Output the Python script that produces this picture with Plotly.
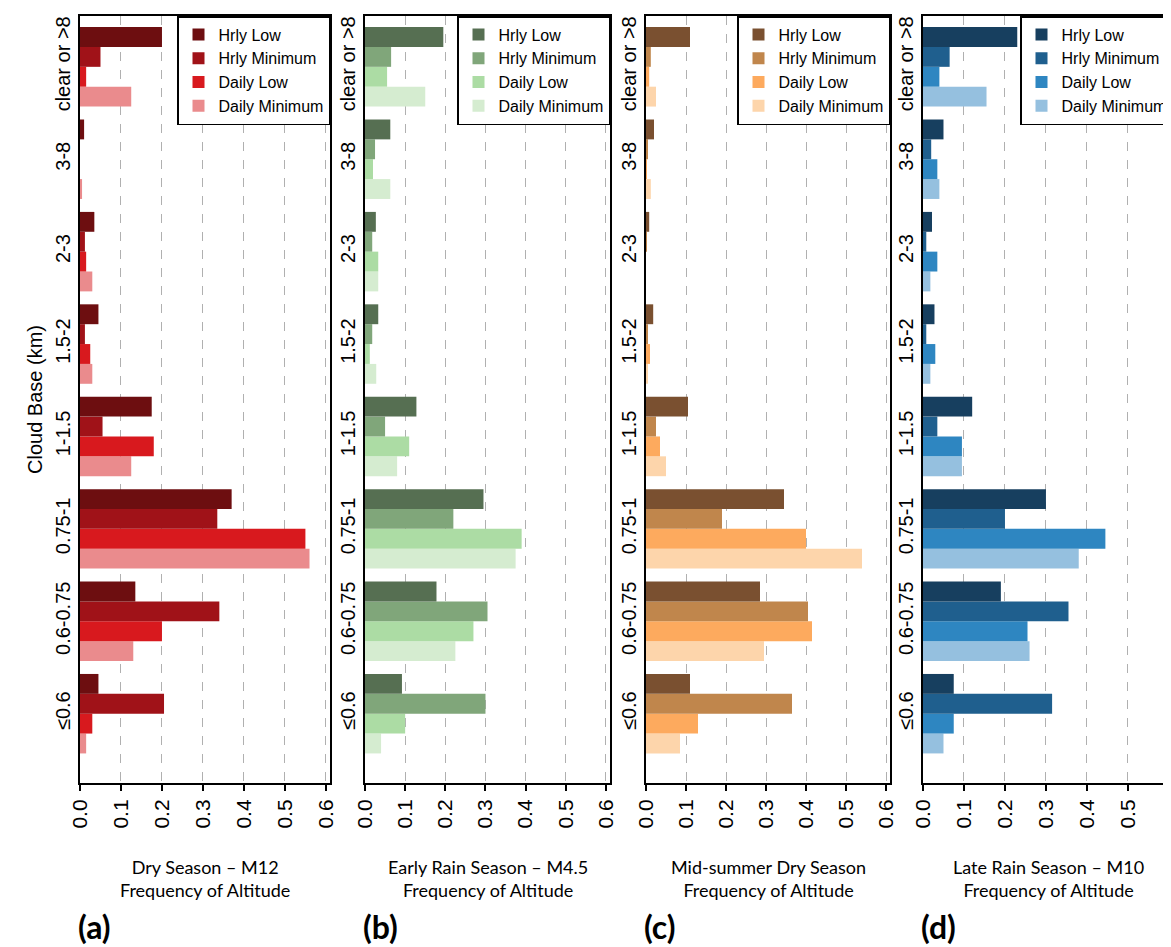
import plotly.graph_objects as go

CATEGORIES = ["clear or >8", "3-8", "2-3", "1.5-2", "1-1.5", "0.75-1", "0.6-0.75", "≤0.6"]
SERIES = ["Hrly Low", "Hrly Minimum", "Daily Low", "Daily Minimum"]

# values per panel, series in order of SERIES, categories in order of CATEGORIES
DRY_M12 = [
    [0.20, 0.01, 0.035, 0.045, 0.175, 0.37, 0.135, 0.045],
    [0.05, 0.0, 0.012, 0.012, 0.055, 0.335, 0.34, 0.205],
    [0.015, 0.0, 0.015, 0.025, 0.18, 0.55, 0.20, 0.03],
    [0.125, 0.005, 0.03, 0.03, 0.125, 0.56, 0.13, 0.015],
]
EARLY_RAIN_M45 = [
    [0.195, 0.063, 0.027, 0.033, 0.128, 0.295, 0.178, 0.092],
    [0.065, 0.025, 0.018, 0.018, 0.05, 0.22, 0.305, 0.30],
    [0.055, 0.02, 0.033, 0.012, 0.11, 0.39, 0.27, 0.10],
    [0.15, 0.063, 0.033, 0.028, 0.08, 0.375, 0.225, 0.04],
]
MIDSUMMER_DRY = [
    [0.11, 0.02, 0.008, 0.018, 0.105, 0.345, 0.285, 0.11],
    [0.012, 0.004, 0.002, 0.003, 0.025, 0.19, 0.405, 0.365],
    [0.008, 0.002, 0.0, 0.01, 0.035, 0.40, 0.415, 0.13],
    [0.025, 0.012, 0.0, 0.003, 0.05, 0.54, 0.295, 0.085],
]
LATE_RAIN_M10 = [
    [0.23, 0.05, 0.022, 0.028, 0.12, 0.30, 0.19, 0.075],
    [0.065, 0.02, 0.008, 0.008, 0.035, 0.20, 0.355, 0.315],
    [0.04, 0.035, 0.035, 0.03, 0.095, 0.445, 0.255, 0.075],
    [0.155, 0.04, 0.018, 0.018, 0.095, 0.38, 0.26, 0.05],
]

PANEL_DATA = [DRY_M12, EARLY_RAIN_M45, MIDSUMMER_DRY, LATE_RAIN_M10]
PANEL_TITLES = ["Dry Season – M12", "Early Rain Season – M4.5",
                "Mid-summer Dry Season", "Late Rain Season – M10"]
PANEL_LETTERS = ["(a)", "(b)", "(c)", "(d)"]
PANEL_COLORS = [
    ["#6d0e10", "#a01218", "#d8191e", "#ea8b8d"],
    ["#566f52", "#80a67a", "#acdca4", "#d5ecd0"],
    ["#7a5030", "#c0864c", "#fdaa5e", "#fdd5ab"],
    ["#173f5f", "#1f5f8e", "#2e86c1", "#95c0df"],
]

W, H = 1171, 947
# pixel boxes of the four plot areas
x_px = [(72, 322), (357, 602), (638, 882), (915, 1165)]
top_px, bot_px = 8, 775

fig = go.Figure()
layout = {}
cats_rev = CATEGORIES[::-1]

for p, data in enumerate(PANEL_DATA):
    n = p + 1
    xa = "x" if n == 1 else f"x{n}"
    ya = "y" if n == 1 else f"y{n}"
    lg = "legend" if n == 1 else f"legend{n}"
    # add bottom-most bar first so Hrly Low sits on top of each group
    for s in reversed(range(4)):
        fig.add_trace(go.Bar(
            y=cats_rev, x=data[s][::-1], orientation="h", name=SERIES[s],
            marker=dict(color=PANEL_COLORS[p][s], line=dict(width=0)),
            xaxis=xa, yaxis=ya, legend=lg, legendrank=s,
        ))
    x0, x1 = x_px[p]
    layout[f"xaxis{'' if n == 1 else n}"] = dict(
        domain=[x0 / W, x1 / W], anchor=ya, range=[0, 0.61],
        tickvals=[0, 0.1, 0.2, 0.3, 0.4, 0.5, 0.6],
        ticktext=["0.0", "0.1", "0.2", "0.3", "0.4", "0.5", "0.6"],
        tickangle=-90, ticks="outside", ticklen=6, tickcolor="black", tickwidth=1.5,
        showgrid=True, gridcolor="#b0b0b0", griddash="dash", gridwidth=1,
        showline=True, linecolor="black", linewidth=2, mirror=True,
        zeroline=False, tickfont=dict(size=21, family="Liberation Sans", color="black"),
    )
    layout[f"yaxis{'' if n == 1 else n}"] = dict(
        domain=[1 - bot_px / H, 1 - top_px / H], anchor=xa,
        categoryorder="array", categoryarray=cats_rev, range=[-0.75, 7.55],
        tickangle=-90, showgrid=False, ticks="",
        showline=True, linecolor="black", linewidth=2, mirror=True,
        tickfont=dict(size=20, family="Liberation Sans", color="black"),
    )
    layout[lg] = dict(
        x=x1 / W, y=1 - top_px / H, xanchor="right", yanchor="top",
        bordercolor="black", borderwidth=1.5, bgcolor="white",
        font=dict(size=16, family="Liberation Sans", color="black"),
        itemwidth=30, tracegroupgap=0,
    )
    cx = (x0 + x1) / 2 / W
    fig.add_annotation(x=cx, y=1 - 870 / H, xref="paper", yref="paper",
                       xanchor="center", yanchor="middle",
                       text=f"{PANEL_TITLES[p]}<br>Frequency of Altitude",
                       showarrow=False, font=dict(size=18, family="Lato", color="black"))
    fig.add_annotation(x=(x0 - 4) / W, y=1 - 918 / H, xref="paper", yref="paper",
                       text=f"<b>{PANEL_LETTERS[p]}</b>", xanchor="left", yanchor="middle",
                       showarrow=False, font=dict(size=32, family="Lato", color="black"))

layout["yaxis"]["title"] = dict(text="Cloud Base (km)", standoff=4,
                                font=dict(size=20, family="Liberation Sans", color="black"))

fig.update_layout(
    width=W, height=H, margin=dict(l=0, r=0, t=0, b=0, autoexpand=False),
    plot_bgcolor="white", paper_bgcolor="white",
    barmode="group", bargap=0.14, bargroupgap=0.0, **layout,
)

fig.write_html("out.html")
